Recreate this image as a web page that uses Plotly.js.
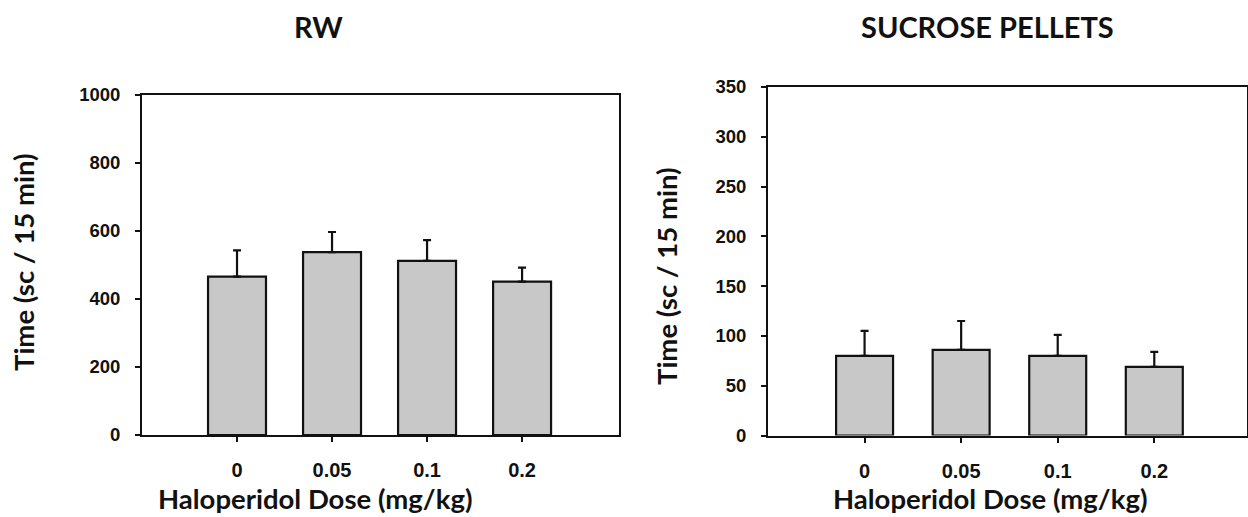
<!DOCTYPE html>
<html>
<head>
<meta charset="utf-8">
<script src="https://cdn.plot.ly/plotly-3.0.1.min.js"></script>
<style>html,body{margin:0;padding:0;background:#fff;}#chart{width:1248px;height:517px;}</style>
</head>
<body>
<div id="chart"></div>
<script>
const doses = ["0", "0.05", "0.1", "0.2"];
const rwMean = [466, 538, 512, 451];
const rwSem = [77, 59, 61, 41];
const sucMean = [80, 86, 80, 69];
const sucSem = [25, 29, 21, 15];
const rwTicks = [0, 200, 400, 600, 800, 1000];
const sucTicks = [0, 50, 100, 150, 200, 250, 300, 350];

const W = 1248, H = 517;
const px = x => x / W;
const py = y => 1 - y / H;

const pos = doses.map((d, i) => i);
const barStyle = {color: '#c8c8c8', line: {color: '#111', width: 2.2}};
const yTickFont = {family: 'Liberation Sans, Arial, sans-serif', size: 18.5, color: '#111', weight: 'bold'};
const xTickFont = {family: 'Liberation Sans, Arial, sans-serif', size: 20, color: '#111', weight: 'bold'};
const titleFont = {family: 'Lato, sans-serif', size: 27.5, color: '#111', weight: 'bold'};
const headFont = {family: 'Lato, sans-serif', size: 29, color: '#111', weight: 'bold'};

const traces = [
  {type: 'bar', x: pos, y: rwMean, width: 0.61, marker: barStyle, xaxis: 'x', yaxis: 'y',
   error_y: {type: 'data', symmetric: false, array: rwSem, arrayminus: [0,0,0,0], color: '#111', thickness: 2.2, width: 4},
   hoverinfo: 'none'},
  {type: 'bar', x: pos, y: sucMean, width: 0.59, marker: barStyle, xaxis: 'x2', yaxis: 'y2',
   error_y: {type: 'data', symmetric: false, array: sucSem, arrayminus: [0,0,0,0], color: '#111', thickness: 2.2, width: 4},
   hoverinfo: 'none'}
];

const axCommon = {showline: true, mirror: true, linecolor: '#111', linewidth: 2, showgrid: false, zeroline: false,
  ticks: 'outside', ticklen: 5, tickwidth: 2, tickcolor: '#111', fixedrange: true};

const layout = {
  width: W, height: H, margin: {l: 0, r: 0, t: 0, b: 0},
  paper_bgcolor: '#fff', plot_bgcolor: '#fff', showlegend: false, bargap: 0,
  xaxis: Object.assign({}, axCommon, {domain: [px(142), px(619)], range: [-1, 4.02], tickmode: 'array',
    tickvals: pos, ticktext: doses, tickfont: xTickFont, ticklabelstandoff: 11, anchor: 'y'}),
  yaxis: Object.assign({}, axCommon, {domain: [py(435), py(95)], range: [0, 1000], tickmode: 'array',
    tickvals: rwTicks, ticktext: rwTicks.map(String), tickfont: yTickFont, ticklabelstandoff: 11, anchor: 'x'}),
  xaxis2: Object.assign({}, axCommon, {domain: [px(768), px(1247)], range: [-1, 3.96], tickmode: 'array',
    tickvals: pos, ticktext: doses, tickfont: xTickFont, ticklabelstandoff: 11, anchor: 'y2'}),
  yaxis2: Object.assign({}, axCommon, {domain: [py(435.5), py(87)], range: [0, 350], tickmode: 'array',
    tickvals: sucTicks, ticktext: sucTicks.map(String), tickfont: yTickFont, ticklabelstandoff: 11, anchor: 'x2'}),
  annotations: [
    {text: 'RW', xref: 'paper', yref: 'paper', x: px(318), y: py(27), xanchor: 'center', yanchor: 'middle', showarrow: false, font: headFont},
    {text: 'SUCROSE PELLETS', xref: 'paper', yref: 'paper', x: px(987), y: py(27), xanchor: 'center', yanchor: 'middle', showarrow: false, font: headFont},
    {text: 'Haloperidol Dose (mg/kg)', xref: 'paper', yref: 'paper', x: px(315), y: py(498), xanchor: 'center', yanchor: 'middle', showarrow: false, font: titleFont},
    {text: 'Haloperidol Dose (mg/kg)', xref: 'paper', yref: 'paper', x: px(990), y: py(498), xanchor: 'center', yanchor: 'middle', showarrow: false, font: titleFont},
    {text: 'Time (sc / 15 min)', xref: 'paper', yref: 'paper', x: px(23), y: py(262), xanchor: 'center', yanchor: 'middle', showarrow: false, textangle: -90, font: titleFont},
    {text: 'Time (sc / 15 min)', xref: 'paper', yref: 'paper', x: px(666), y: py(276), xanchor: 'center', yanchor: 'middle', showarrow: false, textangle: -90, font: titleFont}
  ]
};

Plotly.newPlot('chart', traces, layout, {displayModeBar: false, staticPlot: true});
</script>
</body>
</html>
